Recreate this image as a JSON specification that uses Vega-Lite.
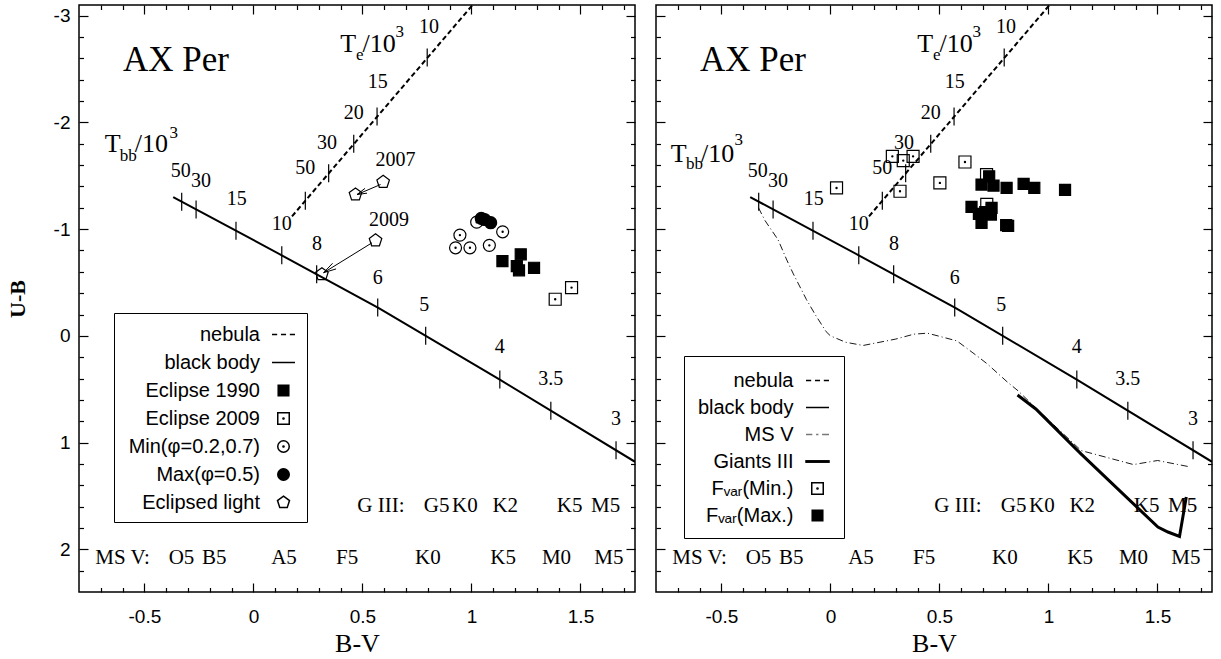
{
"$schema":"https://vega.github.io/schema/vega-lite/v6.json",
"background":"white",
"padding":{"left":5,"top":3,"right":0,"bottom":0},
"spacing":21,
"bounds":"flush",
"datasets":{
"bb":[{"x":-0.368,"y":-1.30},{"x":0.13,"y":-0.755},{"x":0.575,"y":-0.26},{"x":1.13,"y":0.41},{"x":1.75,"y":1.18}],
"neb":[{"x":0.177,"y":-1.12},{"x":1.005,"y":-3.1}],
"bbt":[{"x":-0.329,"y":-1.257},{"x":-0.263,"y":-1.185},{"x":-0.08,"y":-0.985},{"x":0.13,"y":-0.755},{"x":0.29,"y":-0.577},{"x":0.57,"y":-0.266},{"x":0.79,"y":0.0},{"x":1.13,"y":0.41},{"x":1.364,"y":0.701},{"x":1.663,"y":1.072}],
"nebt":[{"x":0.238,"y":-1.266},{"x":0.345,"y":-1.523},{"x":0.46,"y":-1.799},{"x":0.567,"y":-2.056},{"x":0.797,"y":-2.608}],
"nums":[{"x":-0.333,"y":-1.542,"t":"50"},{"x":-0.24,"y":-1.449,"t":"30"},{"x":-0.076,"y":-1.278,"t":"15"},{"x":0.13,"y":-1.044,"t":"10"},{"x":0.291,"y":-0.863,"t":"8"},{"x":0.57,"y":-0.545,"t":"6"},{"x":0.784,"y":-0.29,"t":"5"},{"x":1.13,"y":0.109,"t":"4"},{"x":1.364,"y":0.405,"t":"3.5"},{"x":1.663,"y":0.778,"t":"3"},{"x":0.805,"y":-2.897,"t":"10"},{"x":0.57,"y":-2.383,"t":"15"},{"x":0.46,"y":-2.087,"t":"20"},{"x":0.337,"y":-1.807,"t":"30"},{"x":0.238,"y":-1.573,"t":"50"}],
"spec":[{"x":-0.6,"y":2.08,"t":"MS V:"},{"x":-0.33,"y":2.08,"t":"O5"},{"x":-0.18,"y":2.08,"t":"B5"},{"x":0.14,"y":2.08,"t":"A5"},{"x":0.43,"y":2.08,"t":"F5"},{"x":0.8,"y":2.08,"t":"K0"},{"x":1.145,"y":2.08,"t":"K5"},{"x":1.39,"y":2.08,"t":"M0"},{"x":1.63,"y":2.08,"t":"M5"},{"x":0.585,"y":1.59,"t":"G III:"},{"x":0.84,"y":1.59,"t":"G5"},{"x":0.97,"y":1.59,"t":"K0"},{"x":1.155,"y":1.59,"t":"K2"},{"x":1.45,"y":1.59,"t":"K5"},{"x":1.615,"y":1.59,"t":"M5"}],
"title":[{"x":-0.598,"y":-2.477,"t":"AX Per"}],
"tmainL":[{"x":-0.682,"y":-1.722,"t":"T"},{"x":-0.544,"y":-1.722,"t":"/10"},{"x":0.3986,"y":-2.664,"t":"T"},{"x":0.4998,"y":-2.664,"t":"/10"}],
"tsubL":[{"x":-0.613,"y":-1.642,"t":"bb"},{"x":-0.385,"y":-1.853,"t":"3"},{"x":0.47,"y":-2.586,"t":"e"},{"x":0.652,"y":-2.804,"t":"3"}],
"tmainR":[{"x":-0.732,"y":-1.629,"t":"T"},{"x":-0.594,"y":-1.629,"t":"/10"},{"x":0.3986,"y":-2.664,"t":"T"},{"x":0.4998,"y":-2.664,"t":"/10"}],
"tsubR":[{"x":-0.662,"y":-1.56,"t":"bb"},{"x":-0.44,"y":-1.79,"t":"3"},{"x":0.47,"y":-2.586,"t":"e"},{"x":0.652,"y":-2.804,"t":"3"}],
"years":[{"x":0.652,"y":-1.651,"t":"2007"},{"x":0.622,"y":-1.09,"t":"2009"}],
"arrows":[{"x":0.583,"y":-1.418,"x2":0.475,"y2":-1.324},{"x":0.475,"y":-1.324,"x2":0.521,"y2":-1.337},{"x":0.475,"y":-1.324,"x2":0.512,"y2":-1.382},{"x":0.544,"y":-0.872,"x2":0.322,"y2":-0.592},{"x":0.322,"y":-0.592,"x2":0.379,"y2":-0.627},{"x":0.322,"y":-0.592,"x2":0.363,"y2":-0.68}],
"leftpts":[
{"x":1.142,"y":-0.701,"s":"Eclipse 1990"},{"x":1.226,"y":-0.764,"s":"Eclipse 1990"},{"x":1.208,"y":-0.654,"s":"Eclipse 1990"},{"x":1.218,"y":-0.614,"s":"Eclipse 1990"},{"x":1.287,"y":-0.638,"s":"Eclipse 1990"},
{"x":1.384,"y":-0.343,"s":"Eclipse 2009"},{"x":1.459,"y":-0.452,"s":"Eclipse 2009"},
{"x":0.947,"y":-0.944,"s":"Min(φ=0.2,0.7)"},{"x":0.927,"y":-0.825,"s":"Min(φ=0.2,0.7)"},{"x":0.993,"y":-0.825,"s":"Min(φ=0.2,0.7)"},{"x":1.082,"y":-0.848,"s":"Min(φ=0.2,0.7)"},{"x":1.143,"y":-0.975,"s":"Min(φ=0.2,0.7)"},{"x":1.024,"y":-1.065,"s":"Min(φ=0.2,0.7)"},
{"x":1.045,"y":-1.10,"s":"Max(φ=0.5)"},{"x":1.06,"y":-1.09,"s":"Max(φ=0.5)"},{"x":1.088,"y":-1.06,"s":"Max(φ=0.5)"},
{"x":0.56,"y":-0.894,"s":"Eclipsed light"},{"x":0.314,"y":-0.577,"s":"Eclipsed light"},{"x":0.595,"y":-1.442,"s":"Eclipsed light"},{"x":0.468,"y":-1.324,"s":"Eclipsed light"}],
"rightpts":[
{"x":0.028,"y":-1.386,"s":"Fᵥₐᵣ(Min.)"},{"x":0.284,"y":-1.682,"s":"Fᵥₐᵣ(Min.)"},{"x":0.334,"y":-1.642,"s":"Fᵥₐᵣ(Min.)"},{"x":0.379,"y":-1.682,"s":"Fᵥₐᵣ(Min.)"},{"x":0.319,"y":-1.355,"s":"Fᵥₐᵣ(Min.)"},{"x":0.502,"y":-1.433,"s":"Fᵥₐᵣ(Min.)"},{"x":0.617,"y":-1.629,"s":"Fᵥₐᵣ(Min.)"},{"x":0.716,"y":-1.511,"s":"Fᵥₐᵣ(Min.)"},{"x":0.717,"y":-1.231,"s":"Fᵥₐᵣ(Min.)"},
{"x":0.728,"y":-1.495,"s":"Fᵥₐᵣ(Max.)"},{"x":0.693,"y":-1.418,"s":"Fᵥₐᵣ(Max.)"},{"x":0.748,"y":-1.408,"s":"Fᵥₐᵣ(Max.)"},{"x":0.808,"y":-1.386,"s":"Fᵥₐᵣ(Max.)"},{"x":0.886,"y":-1.424,"s":"Fᵥₐᵣ(Max.)"},{"x":0.935,"y":-1.386,"s":"Fᵥₐᵣ(Max.)"},{"x":1.076,"y":-1.367,"s":"Fᵥₐᵣ(Max.)"},{"x":0.647,"y":-1.209,"s":"Fᵥₐᵣ(Max.)"},{"x":0.681,"y":-1.143,"s":"Fᵥₐᵣ(Max.)"},{"x":0.739,"y":-1.199,"s":"Fᵥₐᵣ(Max.)"},{"x":0.736,"y":-1.137,"s":"Fᵥₐᵣ(Max.)"},{"x":0.693,"y":-1.059,"s":"Fᵥₐᵣ(Max.)"},{"x":0.806,"y":-1.037,"s":"Fᵥₐᵣ(Max.)"},{"x":0.815,"y":-1.03,"s":"Fᵥₐᵣ(Max.)"},{"x":0.71,"y":-1.16,"s":"Fᵥₐᵣ(Max.)"}],
"msv":[{"x":-0.33,"y":-1.2},{"x":-0.3,"y":-1.08},{"x":-0.24,"y":-0.9},{"x":-0.2,"y":-0.71},{"x":-0.17,"y":-0.58},{"x":-0.11,"y":-0.34},{"x":-0.07,"y":-0.2},{"x":-0.02,"y":-0.04},{"x":0.0,"y":0.0},{"x":0.07,"y":0.06},{"x":0.15,"y":0.09},{"x":0.3,"y":0.03},{"x":0.383,"y":-0.016},{"x":0.445,"y":-0.025},{"x":0.58,"y":0.047},{"x":0.68,"y":0.2},{"x":0.72,"y":0.264},{"x":0.81,"y":0.43},{"x":0.86,"y":0.514},{"x":0.97,"y":0.73},{"x":1.15,"y":1.075},{"x":1.39,"y":1.206},{"x":1.5,"y":1.168},{"x":1.64,"y":1.224}],
"giants":[{"x":0.858,"y":0.554},{"x":0.942,"y":0.685},{"x":1.149,"y":1.106},{"x":1.502,"y":1.792},{"x":1.548,"y":1.838},{"x":1.601,"y":1.879},{"x":1.632,"y":1.511}]
},
"hconcat":[
{"width":556,"height":587,
"resolve":{"axis":{"x":"independent","y":"independent"}},
"layer":[
{"data":{"name":"bb"},"mark":{"type":"line","color":"black","strokeWidth":2,"clip":true},
"encoding":{"x":{"field":"x","type":"quantitative","scale":{"domain":[-0.8,1.75],"nice":false,"zero":false},"axis":{"orient":"bottom","values":[-0.5,0,0.5,1,1.5],"tickSize":-9,"labelPadding":24,"labelExpr":"''+datum.value","title":"B-V"}},
"y":{"field":"y","type":"quantitative","scale":{"domain":[-3.1,2.4],"reverse":true,"nice":false,"zero":false},"axis":{"orient":"left","values":[-3,-2,-1,0,1,2],"tickSize":-9,"labelPadding":18,"labelExpr":"''+datum.value","title":"U-B","titleFontWeight":"bold","titleFontSize":22,"titlePadding":24}}}},
{"data":{"name":"neb"},"mark":{"type":"line","color":"black","strokeWidth":2,"strokeDash":[5,3],"clip":true},
"encoding":{"x":{"field":"x","type":"quantitative","axis":{"orient":"bottom","values":[-0.7,-0.6,-0.4,-0.3,-0.2,-0.1,0.1,0.2,0.3,0.4,0.6,0.7,0.8,0.9,1.1,1.2,1.3,1.4,1.6,1.7],"tickSize":-4.5,"labels":false,"title":null}},
"y":{"field":"y","type":"quantitative","axis":{"orient":"left","values":[-2.8,-2.6,-2.4,-2.2,-1.8,-1.6,-1.4,-1.2,-0.8,-0.6,-0.4,-0.2,0.2,0.4,0.6,0.8,1.2,1.4,1.6,1.8,2.2],"tickSize":-4.5,"labels":false,"title":null}}}},
{"data":{"name":"bbt"},"mark":{"type":"point","shape":"M0,-1V1","size":324,"color":"black","strokeWidth":1.2,"opacity":1},
"encoding":{"x":{"field":"x","type":"quantitative","axis":{"orient":"top","values":[-0.5,0,0.5,1,1.5],"tickSize":-9,"labels":false,"title":null}},
"y":{"field":"y","type":"quantitative","axis":{"orient":"right","values":[-3,-2,-1,0,1,2],"tickSize":-9,"labels":false,"title":null}}}},
{"data":{"name":"nebt"},"mark":{"type":"point","shape":"M0,-1V1","size":324,"color":"black","strokeWidth":1.2,"opacity":1},
"encoding":{"x":{"field":"x","type":"quantitative","axis":{"orient":"top","values":[-0.7,-0.6,-0.4,-0.3,-0.2,-0.1,0.1,0.2,0.3,0.4,0.6,0.7,0.8,0.9,1.1,1.2,1.3,1.4,1.6,1.7],"tickSize":-4.5,"labels":false,"title":null}},
"y":{"field":"y","type":"quantitative","axis":{"orient":"right","values":[-2.8,-2.6,-2.4,-2.2,-1.8,-1.6,-1.4,-1.2,-0.8,-0.6,-0.4,-0.2,0.2,0.4,0.6,0.8,1.2,1.4,1.6,1.8,2.2],"tickSize":-4.5,"labels":false,"title":null}}}},
{"data":{"name":"arrows"},"mark":{"type":"rule","color":"black","strokeWidth":1},
"encoding":{"x":{"field":"x","type":"quantitative","axis":null},"y":{"field":"y","type":"quantitative","axis":null},"x2":{"field":"x2"},"y2":{"field":"y2"}}},
{"data":{"name":"leftpts"},"mark":{"type":"point","size":576,"strokeWidth":1.2,"opacity":1},
"encoding":{"x":{"field":"x","type":"quantitative","axis":null},"y":{"field":"y","type":"quantitative","axis":null},
"shape":{"field":"s","type":"nominal","scale":{"domain":["nebula","black body","Eclipse 1990","Eclipse 2009","Min(φ=0.2,0.7)","Max(φ=0.5)","Eclipsed light"],"range":["M-1,0H-0.55M-0.22,0H0.22M0.55,0H1","M-1,0H1","M-0.46,-0.46H0.46V0.46H-0.46Z","M-0.5,-0.5H0.5V0.5H-0.5ZM-0.05,0A0.05,0.05 0 1,0 0.05,0A0.05,0.05 0 1,0 -0.05,0Z","M0.5,0A0.5,0.5 0 1,1 -0.5,0A0.5,0.5 0 1,1 0.5,0ZM-0.05,0A0.05,0.05 0 1,0 0.05,0A0.05,0.05 0 1,0 -0.05,0Z","M0.5,0A0.5,0.5 0 1,1 -0.5,0A0.5,0.5 0 1,1 0.5,0Z","M0,-0.55L0.523,-0.17L0.323,0.445L-0.323,0.445L-0.523,-0.17Z"]},
"legend":{"orient":"none","legendX":35,"legendY":308,"labelOffset":-36,"symbolOffset":148,"padding":9,"rowPadding":5}},
"fill":{"field":"s","type":"nominal","scale":{"domain":["nebula","black body","Eclipse 1990","Eclipse 2009","Min(φ=0.2,0.7)","Max(φ=0.5)","Eclipsed light"],"range":["transparent","transparent","black","transparent","transparent","black","transparent"]},
"legend":{"orient":"none","legendX":35,"legendY":308,"labelOffset":-36,"symbolOffset":148,"padding":9,"rowPadding":5}},
"stroke":{"field":"s","type":"nominal","scale":{"domain":["nebula","black body","Eclipse 1990","Eclipse 2009","Min(φ=0.2,0.7)","Max(φ=0.5)","Eclipsed light"],"range":["black","black","black","black","black","black","black"]},
"legend":{"orient":"none","legendX":35,"legendY":308,"labelOffset":-36,"symbolOffset":148,"padding":9,"rowPadding":5}}}},
{"data":{"name":"nums"},"mark":{"type":"text","fontSize":20,"align":"center","baseline":"middle"},
"encoding":{"x":{"field":"x","type":"quantitative","axis":null},"y":{"field":"y","type":"quantitative","axis":null},"text":{"field":"t"}}},
{"data":{"name":"spec"},"mark":{"type":"text","fontSize":21,"align":"center","baseline":"middle"},
"encoding":{"x":{"field":"x","type":"quantitative","axis":null},"y":{"field":"y","type":"quantitative","axis":null},"text":{"field":"t"}}},
{"data":{"name":"years"},"mark":{"type":"text","fontSize":20,"align":"center","baseline":"middle"},
"encoding":{"x":{"field":"x","type":"quantitative","axis":null},"y":{"field":"y","type":"quantitative","axis":null},"text":{"field":"t"}}},
{"data":{"name":"title"},"mark":{"type":"text","fontSize":35,"align":"left","baseline":"alphabetic"},
"encoding":{"x":{"field":"x","type":"quantitative","axis":null},"y":{"field":"y","type":"quantitative","axis":null},"text":{"field":"t"}}},
{"data":{"name":"tmainL"},"mark":{"type":"text","fontSize":26,"align":"left","baseline":"alphabetic"},
"encoding":{"x":{"field":"x","type":"quantitative","axis":null},"y":{"field":"y","type":"quantitative","axis":null},"text":{"field":"t"}}},
{"data":{"name":"tsubL"},"mark":{"type":"text","fontSize":17,"align":"left","baseline":"alphabetic"},
"encoding":{"x":{"field":"x","type":"quantitative","axis":null},"y":{"field":"y","type":"quantitative","axis":null},"text":{"field":"t"}}}
]},
{"width":556,"height":587,
"resolve":{"axis":{"x":"independent","y":"independent"}},
"layer":[
{"data":{"name":"bb"},"mark":{"type":"line","color":"black","strokeWidth":2,"clip":true},
"encoding":{"x":{"field":"x","type":"quantitative","scale":{"domain":[-0.8,1.75],"nice":false,"zero":false},"axis":{"orient":"bottom","values":[-0.5,0,0.5,1,1.5],"tickSize":-9,"labelPadding":24,"labelExpr":"''+datum.value","title":"B-V"}},
"y":{"field":"y","type":"quantitative","scale":{"domain":[-3.1,2.4],"reverse":true,"nice":false,"zero":false},"axis":{"orient":"left","values":[-3,-2,-1,0,1,2],"tickSize":-9,"labels":false,"title":null}}}},
{"data":{"name":"neb"},"mark":{"type":"line","color":"black","strokeWidth":2,"strokeDash":[5,3],"clip":true},
"encoding":{"x":{"field":"x","type":"quantitative","axis":{"orient":"bottom","values":[-0.7,-0.6,-0.4,-0.3,-0.2,-0.1,0.1,0.2,0.3,0.4,0.6,0.7,0.8,0.9,1.1,1.2,1.3,1.4,1.6,1.7],"tickSize":-4.5,"labels":false,"title":null}},
"y":{"field":"y","type":"quantitative","axis":{"orient":"left","values":[-2.8,-2.6,-2.4,-2.2,-1.8,-1.6,-1.4,-1.2,-0.8,-0.6,-0.4,-0.2,0.2,0.4,0.6,0.8,1.2,1.4,1.6,1.8,2.2],"tickSize":-4.5,"labels":false,"title":null}}}},
{"data":{"name":"bbt"},"mark":{"type":"point","shape":"M0,-1V1","size":324,"color":"black","strokeWidth":1.2,"opacity":1},
"encoding":{"x":{"field":"x","type":"quantitative","axis":{"orient":"top","values":[-0.5,0,0.5,1,1.5],"tickSize":-9,"labels":false,"title":null}},
"y":{"field":"y","type":"quantitative","axis":{"orient":"right","values":[-3,-2,-1,0,1,2],"tickSize":-9,"labels":false,"title":null}}}},
{"data":{"name":"nebt"},"mark":{"type":"point","shape":"M0,-1V1","size":324,"color":"black","strokeWidth":1.2,"opacity":1},
"encoding":{"x":{"field":"x","type":"quantitative","axis":{"orient":"top","values":[-0.7,-0.6,-0.4,-0.3,-0.2,-0.1,0.1,0.2,0.3,0.4,0.6,0.7,0.8,0.9,1.1,1.2,1.3,1.4,1.6,1.7],"tickSize":-4.5,"labels":false,"title":null}},
"y":{"field":"y","type":"quantitative","axis":{"orient":"right","values":[-2.8,-2.6,-2.4,-2.2,-1.8,-1.6,-1.4,-1.2,-0.8,-0.6,-0.4,-0.2,0.2,0.4,0.6,0.8,1.2,1.4,1.6,1.8,2.2],"tickSize":-4.5,"labels":false,"title":null}}}},
{"data":{"name":"msv"},"mark":{"type":"line","color":"black","strokeWidth":0.9,"strokeDash":[7,3,1,3],"clip":true},
"encoding":{"x":{"field":"x","type":"quantitative","axis":null},"y":{"field":"y","type":"quantitative","axis":null}}},
{"data":{"name":"giants"},"mark":{"type":"line","color":"black","strokeWidth":3,"clip":true},
"encoding":{"x":{"field":"x","type":"quantitative","axis":null},"y":{"field":"y","type":"quantitative","axis":null}}},
{"data":{"name":"rightpts"},"mark":{"type":"point","size":576,"strokeWidth":1.2,"opacity":1},
"encoding":{"x":{"field":"x","type":"quantitative","axis":null},"y":{"field":"y","type":"quantitative","axis":null},
"shape":{"field":"s","type":"nominal","scale":{"domain":["nebula","black body","MS V","Giants III","Fᵥₐᵣ(Min.)","Fᵥₐᵣ(Max.)"],"range":["M-1,0H-0.55M-0.22,0H0.22M0.55,0H1","M-1,0H1","M-1,0H-0.45M-0.12,0H0.08M0.4,0H1","M-1,-0.06H1V0.06H-1Z","M-0.5,-0.5H0.5V0.5H-0.5ZM-0.05,0A0.05,0.05 0 1,0 0.05,0A0.05,0.05 0 1,0 -0.05,0Z","M-0.46,-0.46H0.46V0.46H-0.46Z"]},
"legend":{"orient":"none","legendX":28,"legendY":351,"labelOffset":-36.5,"symbolOffset":109,"padding":12,"rowPadding":4}},
"fill":{"field":"s","type":"nominal","scale":{"domain":["nebula","black body","MS V","Giants III","Fᵥₐᵣ(Min.)","Fᵥₐᵣ(Max.)"],"range":["transparent","transparent","transparent","black","transparent","black"]},
"legend":{"orient":"none","legendX":28,"legendY":351,"labelOffset":-36.5,"symbolOffset":109,"padding":12,"rowPadding":4}},
"stroke":{"field":"s","type":"nominal","scale":{"domain":["nebula","black body","MS V","Giants III","Fᵥₐᵣ(Min.)","Fᵥₐᵣ(Max.)"],"range":["black","black","#777777","black","black","black"]},
"legend":{"orient":"none","legendX":28,"legendY":351,"labelOffset":-36.5,"symbolOffset":109,"padding":12,"rowPadding":4}}}},
{"data":{"name":"nums"},"mark":{"type":"text","fontSize":20,"align":"center","baseline":"middle"},
"encoding":{"x":{"field":"x","type":"quantitative","axis":null},"y":{"field":"y","type":"quantitative","axis":null},"text":{"field":"t"}}},
{"data":{"name":"spec"},"mark":{"type":"text","fontSize":21,"align":"center","baseline":"middle"},
"encoding":{"x":{"field":"x","type":"quantitative","axis":null},"y":{"field":"y","type":"quantitative","axis":null},"text":{"field":"t"}}},
{"data":{"name":"title"},"mark":{"type":"text","fontSize":35,"align":"left","baseline":"alphabetic"},
"encoding":{"x":{"field":"x","type":"quantitative","axis":null},"y":{"field":"y","type":"quantitative","axis":null},"text":{"field":"t"}}},
{"data":{"name":"tmainR"},"mark":{"type":"text","fontSize":26,"align":"left","baseline":"alphabetic"},
"encoding":{"x":{"field":"x","type":"quantitative","axis":null},"y":{"field":"y","type":"quantitative","axis":null},"text":{"field":"t"}}},
{"data":{"name":"tsubR"},"mark":{"type":"text","fontSize":17,"align":"left","baseline":"alphabetic"},
"encoding":{"x":{"field":"x","type":"quantitative","axis":null},"y":{"field":"y","type":"quantitative","axis":null},"text":{"field":"t"}}}
]}
],
"resolve":{"scale":{"x":"independent","y":"independent","shape":"independent","fill":"independent","stroke":"independent"},"legend":{"shape":"independent","fill":"independent","stroke":"independent"}},
"config":{
"view":{"stroke":"black","strokeWidth":1.5},
"axis":{"domain":false,"grid":false,"tickColor":"black","tickWidth":1.2,"labelFont":"Liberation Sans","labelFontSize":19,"labelColor":"black","titleFont":"Liberation Serif","titleFontSize":26,"titleFontWeight":"normal","titleColor":"black"},
"legend":{"title":null,"labelAlign":"right","labelFont":"Liberation Sans","labelFontSize":20,"labelColor":"black","labelLimit":0,"symbolSize":529,"symbolStrokeWidth":1.5,"symbolOpacity":1,"strokeColor":"black","fillColor":"white"},
"text":{"font":"Liberation Serif","color":"black"}
}
}
